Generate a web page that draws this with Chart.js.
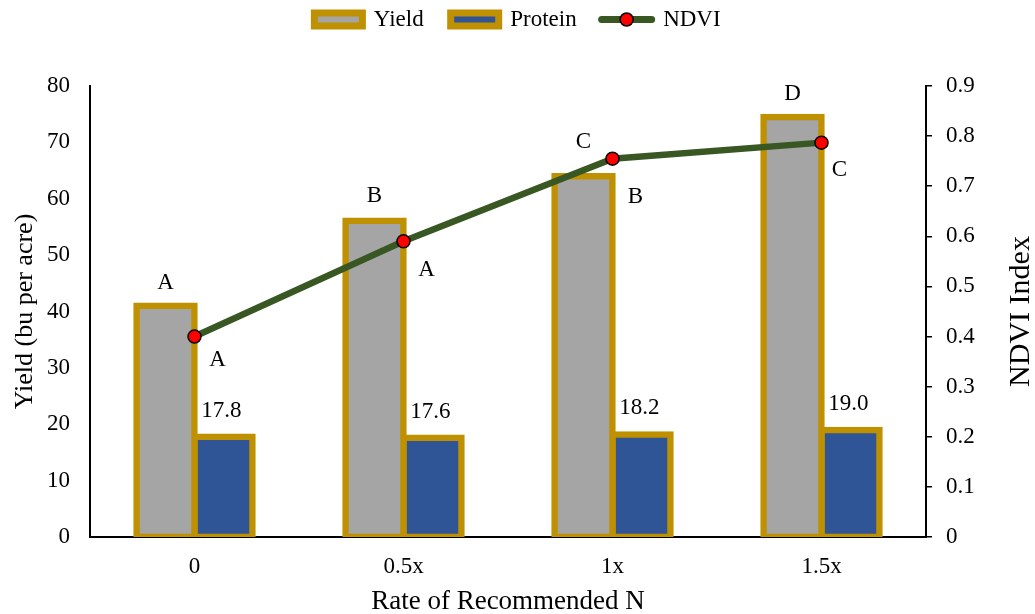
<!DOCTYPE html>
<html>
<head>
<meta charset="utf-8">
<script src="https://cdn.jsdelivr.net/npm/chart.js@4.4.0/dist/chart.umd.min.js"></script>
<style>
    html, body { margin: 0; padding: 0; background: #ffffff; }
    #contenedor { width: 1035px; height: 614px; }
</style>
</head>
<body>
<div id="contenedor"><canvas id="graficoNitrogeno" width="1035" height="614"></canvas></div>
<script>

/*
=====================================
DATOS
=====================================
*/

const categorias = ['0', '0.5x', '1x', '1.5x'];

const rendimiento = [41.0, 56.1, 64.0, 74.5];

const proteina = [17.8, 17.6, 18.2, 19.0];

const ndvi = [0.40, 0.59, 0.755, 0.787];

const letrasRendimiento = ['A', 'B', 'C', 'D'];

const letrasNdvi = ['A', 'A', 'B', 'C'];

const ticksRendimiento = [0, 10, 20, 30, 40, 50, 60, 70, 80];

const ticksNdvi = [0, 0.1, 0.2, 0.3, 0.4, 0.5, 0.6, 0.7, 0.8, 0.9];


/*
=====================================
ESTILO
=====================================
*/

const FUENTE = "'Liberation Serif', 'Times New Roman', serif";
const DORADO = '#BF9000';
const GRIS = '#A5A5A5';
const AZUL = '#2F5597';
const VERDE = '#385723';
const BORDE = 6.5;

Chart.defaults.font.family = FUENTE;
Chart.defaults.font.size = 23;
Chart.defaults.color = '#000000';

// pequeños ajustes manuales de las letras, como en el original
const ajusteLetraR = [0, -2, -11, 0];
const ajusteLetraN = [[1, -5], [1, 1], [1, 10], [-4, -1]];


/*
=====================================
PLUGINS
=====================================
*/

const etiquetas = {

    id: 'etiquetas',

    afterDatasetsDraw(chart) {

        const { ctx, scales } = chart;

        const barrasR = chart.getDatasetMeta(0).data;
        const barrasP = chart.getDatasetMeta(1).data;
        const puntos = chart.getDatasetMeta(2).data;

        ctx.save();
        ctx.font = '23px ' + FUENTE;
        ctx.fillStyle = '#000000';
        ctx.textAlign = 'center';
        ctx.textBaseline = 'middle';

        barrasR.forEach((barra, i) => {
            const y = scales.y.getPixelForValue(rendimiento[i]);
            ctx.fillText(letrasRendimiento[i], barra.x, y - 23 + ajusteLetraR[i]);
        });

        barrasP.forEach((barra, i) => {
            const y = scales.y.getPixelForValue(proteina[i]);
            ctx.fillText(proteina[i].toFixed(1), barra.x - 2, y - 26);
        });

        puntos.forEach((punto, i) => {
            const y = scales.y1.getPixelForValue(ndvi[i]);
            ctx.fillText(letrasNdvi[i], punto.x + 22 + ajusteLetraN[i][0], y + 28 + ajusteLetraN[i][1]);
        });

        ctx.restore();

    },

    afterDraw(chart) {

        const { ctx, chartArea } = chart;

        // titulo del eje derecho, leido de abajo hacia arriba
        ctx.save();
        ctx.font = '30px ' + FUENTE;
        ctx.fillStyle = '#000000';
        ctx.textAlign = 'center';
        ctx.textBaseline = 'middle';
        ctx.translate(1021, (chartArea.top + chartArea.bottom) / 2);
        ctx.rotate(-Math.PI / 2);
        ctx.fillText('NDVI Index', 0, 0);
        ctx.restore();

        // muestra de la linea NDVI en la leyenda
        const caja = chart.legend.legendHitBoxes[2];
        const ancho = chart.legend.options.labels.boxWidth;
        const yc = caja.top + caja.height / 2;

        ctx.save();
        ctx.strokeStyle = VERDE;
        ctx.lineWidth = 7;
        ctx.lineCap = 'round';
        ctx.beginPath();
        ctx.moveTo(caja.left - 2, yc);
        ctx.lineTo(caja.left + ancho, yc);
        ctx.stroke();
        ctx.beginPath();
        ctx.arc(caja.left + ancho / 2 - 1, yc, 6.5, 0, Math.PI * 2);
        ctx.fillStyle = '#FF0000';
        ctx.fill();
        ctx.lineWidth = 1.5;
        ctx.strokeStyle = '#000000';
        ctx.stroke();
        ctx.restore();

    }

};


/*
=====================================
GRAFICO
=====================================
*/

const canvas = document.getElementById('graficoNitrogeno');

new Chart(canvas, {

    type: 'bar',

    data: {

        labels: categorias,

        datasets: [

            {
                label: 'Yield',
                data: rendimiento,
                backgroundColor: GRIS,
                borderColor: DORADO,
                borderWidth: BORDE,
                borderSkipped: false,
                inflateAmount: BORDE / 2,
                yAxisID: 'y',
                order: 1
            },

            {
                label: 'Protein',
                data: proteina,
                backgroundColor: AZUL,
                borderColor: DORADO,
                borderWidth: BORDE,
                borderSkipped: false,
                inflateAmount: BORDE / 2,
                yAxisID: 'y',
                order: 1
            },

            {
                type: 'line',
                label: 'NDVI',
                data: ndvi,
                borderColor: VERDE,
                backgroundColor: VERDE,
                borderWidth: 6.5,
                tension: 0,
                pointRadius: 6.5,
                pointBackgroundColor: '#FF0000',
                pointBorderColor: '#000000',
                pointBorderWidth: 1.5,
                yAxisID: 'y1',
                order: 0
            }

        ]

    },

    options: {

        responsive: false,

        animation: false,

        devicePixelRatio: 1,

        categoryPercentage: 0.555,

        barPercentage: 1,

        layout: {
            padding: { top: -19, left: 0, right: 0, bottom: 0 }
        },

        plugins: {

            legend: {
                position: 'top',
                weight: 1000,
                labels: {
                    boxWidth: 48,
                    boxHeight: 13,
                    padding: 27,
                    font: { size: 23, family: FUENTE },
                    sort: (a, b) => a.datasetIndex - b.datasetIndex,
                    generateLabels(chart) {
                        const items = Chart.defaults.plugins.legend.labels.generateLabels(chart);
                        items.forEach((item) => {
                            if (item.datasetIndex < 2) {
                                item.lineWidth = 7;
                                item.strokeStyle = DORADO;
                            } else {
                                item.fillStyle = 'rgba(0,0,0,0)';
                                item.strokeStyle = 'rgba(0,0,0,0)';
                                item.lineWidth = 0;
                            }
                        });
                        return items;
                    }
                }
            },

            // espacio vacio entre la leyenda y el area del grafico
            title: {
                display: true,
                text: '',
                weight: 500,
                font: { size: 10 },
                padding: { top: 0, bottom: 33 }
            },

            tooltip: { enabled: false }

        },

        scales: {

            x: {
                offset: true,
                grid: { display: false, drawTicks: false },
                border: { display: true, color: '#000000', width: 2 },
                ticks: { padding: 16, color: '#000000', font: { size: 23 } },
                title: {
                    display: true,
                    text: 'Rate of Recommended N',
                    font: { size: 27, lineHeight: 0.92 },
                    padding: { top: 0, bottom: 0 }
                },
                afterFit: (escala) => { escala.height = 77; }
            },

            y: {
                position: 'left',
                min: 0,
                max: 80,
                grid: { display: false, drawTicks: false },
                border: { display: true, color: '#000000', width: 2 },
                ticks: { padding: 20, color: '#000000', font: { size: 23 } },
                afterBuildTicks: (escala) => {
                    escala.ticks = ticksRendimiento.map(v => ({ value: v }));
                },
                title: {
                    display: true,
                    text: 'Yield (bu per acre)',
                    font: { size: 26, lineHeight: 1 },
                    padding: { top: 12, bottom: 0 }
                },
                afterFit: (escala) => { escala.width = 90; }
            },

            y1: {
                position: 'right',
                min: 0,
                max: 0.9,
                grid: {
                    display: true,
                    drawOnChartArea: false,
                    drawTicks: true,
                    tickLength: 6,
                    color: '#000000',
                    lineWidth: 1.5
                },
                border: { display: true, color: '#000000', width: 2 },
                ticks: {
                    padding: 14,
                    color: '#000000',
                    font: { size: 23 },
                    callback: (v) => String(Math.round(v * 10) / 10)
                },
                afterBuildTicks: (escala) => {
                    escala.ticks = ticksNdvi.map(v => ({ value: v }));
                },
                afterFit: (escala) => { escala.width = 109; }
            }

        }

    },

    plugins: [etiquetas]

});

</script>
</body>
</html>
